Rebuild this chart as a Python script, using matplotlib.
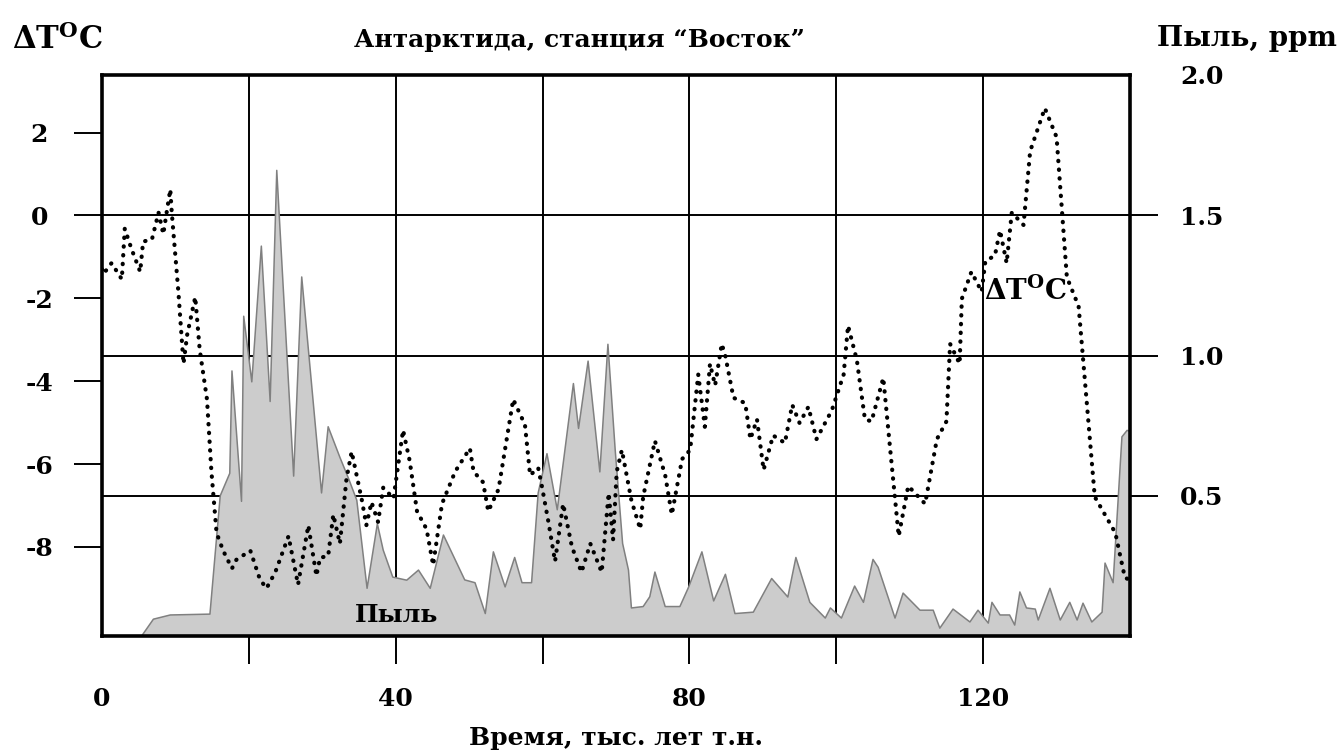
import numpy as np
import matplotlib.pyplot as plt

plt.rcParams['font.family'] = ['DejaVu Serif']
plt.rcParams['font.weight'] = 'bold'
plt.rcParams['mathtext.default'] = 'regular'

# Температура (отклонение, °C) по времени, тыс. лет
temp_time = [0.0, 0.2, 1.3, 2.7, 3.1, 4.0, 5.2, 5.6, 6.8, 7.7,
             8.35, 8.8, 9.3, 9.5, 10.4, 11.1, 11.6, 12.7, 13.3, 14.3,
             14.9, 15.6, 16.5, 17.7, 18.3, 20.2, 21.5, 22.4, 23.6, 25.4,
             26.7, 28.1, 29.2, 29.7, 30.8, 31.5, 32.4, 33.3, 34.0, 35.4,
             36.0, 36.7, 37.6, 38.3, 39.7, 41.0, 41.9, 42.9, 44.2, 45.1,
             46.3, 48.1, 50.1, 50.6, 51.9, 52.6, 54.0, 56.0, 57.6, 58.3,
             59.4, 59.9, 60.8, 61.7, 62.8, 64.0, 65.3, 66.5, 68.05, 69.0,
             69.6, 70.1, 70.8, 72.1, 73.3, 73.7, 75.3, 76.7, 77.6, 79.0,
             80.1, 81.2, 82.1, 82.8, 83.5, 84.4, 84.9, 86.0, 87.6, 88.3,
             89.2, 90.1, 91.4, 93.0, 94.0, 95.0, 96.2, 97.3, 99.4, 101.0,
             101.6, 102.8, 103.9, 104.8, 106.4, 107.3, 108.5, 109.8, 112.1, 113.7,
             115.0, 115.5, 116.8, 117.1, 118.4, 119.8, 120.3, 121.6, 122.3, 123.2,
             123.9, 125.5, 126.4, 128.4, 130.0, 131.4, 133.0, 135.2, 138.0, 139.3,
             140.0]
temp_delta = [-1.30, -1.41, -1.15, -1.54, -0.32, -0.80, -1.36, -0.63, -0.58, 0.07,
              -0.45, 0.07, 0.63, 0.07, -1.84, -3.58, -2.88, -1.97, -3.23, -4.44,
              -6.18, -7.66, -8.09, -8.52, -8.31, -8.09, -8.78, -9.00, -8.61, -7.74,
              -8.91, -7.48, -8.70, -8.26, -8.22, -7.22, -7.92, -6.35, -5.70, -6.88,
              -7.48, -6.92, -7.40, -6.57, -6.83, -5.18, -5.92, -7.14, -7.57, -8.44,
              -6.96, -6.18, -5.62, -6.18, -6.44, -7.14, -6.61, -4.44, -5.05, -6.27,
              -6.09, -6.53, -7.40, -8.35, -6.96, -8.00, -8.61, -7.92, -8.61, -6.70,
              -7.83, -6.18, -5.66, -6.88, -7.57, -6.79, -5.44, -6.27, -7.22, -5.88,
              -5.66, -3.84, -5.10, -3.58, -4.10, -3.10, -3.40, -4.40, -4.53, -5.40,
              -4.92, -6.14, -5.31, -5.49, -4.57, -5.01, -4.62, -5.40, -4.70, -3.84,
              -2.66, -3.49, -4.92, -4.97, -3.92, -5.57, -7.74, -6.53, -6.96, -5.40,
              -4.97, -3.10, -3.58, -2.01, -1.36, -1.84, -1.10, -0.97, -0.36, -1.15,
              0.07, -0.23, 1.55, 2.59, 1.89, -1.49, -2.19, -6.79, -7.66, -8.74,
              -8.80]

# Пыль, ppm
dust_time = [0.0, 5.4, 7.0, 9.3, 14.7, 16.1, 17.4, 17.7, 19.0, 19.3,
             20.4, 21.7, 22.9, 23.8, 26.1, 27.2, 29.9, 30.8, 32.4, 33.6,
             34.7, 36.1, 37.5, 38.3, 39.6, 41.5, 43.1, 44.7, 46.5, 49.4,
             50.8, 52.2, 53.3, 54.9, 56.2, 57.2, 58.5, 59.4, 60.6, 62.0,
             64.2, 64.9, 66.2, 67.8, 68.9, 69.9, 70.9, 71.7, 72.1, 73.7,
             74.6, 75.3, 76.7, 78.7, 79.9, 81.7, 83.3, 84.9, 86.2, 88.7,
             91.2, 93.4, 94.5, 96.4, 98.5, 99.2, 100.7, 102.5, 103.7, 105.0,
             105.7, 108.0, 109.1, 111.4, 113.2, 114.1, 115.9, 118.2, 119.3, 120.7,
             121.2, 122.3, 123.6, 124.3, 125.0, 125.9, 127.1, 127.5, 129.1, 130.5,
             131.8, 132.8, 133.6, 134.8, 136.2, 136.6, 137.7, 138.9, 139.6, 140.0]
dust_ppm = [0.0, 0.0, 0.06, 0.075, 0.078, 0.50, 0.58, 0.945, 0.48, 1.14,
            0.906, 1.39, 0.836, 1.66, 0.57, 1.28, 0.51, 0.746, 0.637, 0.56,
            0.484, 0.17, 0.40, 0.306, 0.21, 0.199, 0.235, 0.17, 0.36, 0.20,
            0.19, 0.08, 0.30, 0.175, 0.28, 0.19, 0.19, 0.51, 0.65, 0.45,
            0.90, 0.74, 0.98, 0.585, 1.04, 0.66, 0.33, 0.235, 0.10, 0.105,
            0.14, 0.228, 0.105, 0.105, 0.175, 0.30, 0.125, 0.22, 0.08, 0.085,
            0.205, 0.139, 0.28, 0.12, 0.064, 0.10, 0.064, 0.178, 0.12, 0.273,
            0.245, 0.064, 0.153, 0.092, 0.092, 0.028, 0.096, 0.05, 0.092, 0.046,
            0.12, 0.075, 0.075, 0.039, 0.157, 0.10, 0.096, 0.057, 0.17, 0.057,
            0.12, 0.057, 0.117, 0.05, 0.085, 0.26, 0.19, 0.71, 0.733, 0.73]

x_labeled = [0, 40, 80, 120]
x_minor = [20, 60, 100]
temp_ticks = [-8, -6, -4, -2, 0, 2]
dust_ticks = [0.5, 1.0, 1.5, 2.0]
dust_grid = [0.5, 1.0, 1.5]

fig = plt.figure(figsize=(13.44, 7.55), dpi=100)
rect = [102 / 1344, 1 - 636 / 755, 1028 / 1344, 561 / 755]

# задний слой: пыль, сетка, правая шкала
ax_d = fig.add_axes(rect)
ax_d.set_xlim(0, 140)
ax_d.set_ylim(0, 2.0)
for x in x_minor + x_labeled[1:]:
    ax_d.axvline(x, color='black', lw=1.4, zorder=1)
for y in dust_grid:
    ax_d.axhline(y, color='black', lw=1.4, zorder=1)
ax_d.fill_between(dust_time, dust_ppm, 0, facecolor='#cccccc', edgecolor='none', zorder=2)
ax_d.plot(dust_time, dust_ppm, color='#808080', lw=1.1, zorder=3)
ax_d.text(34.5, 0.075, 'Пыль', fontsize=18, ha='left', va='center', zorder=5)
ax_d.yaxis.tick_right()
ax_d.set_yticks(dust_ticks)
ax_d.set_yticklabels([f'{v:.1f}' for v in dust_ticks])
ax_d.tick_params(axis='y', direction='out', length=20, width=1.4, pad=16, labelsize=18)
ax_d.yaxis.get_major_ticks()[-1].tick2line.set_visible(False)
ax_d.tick_params(axis='x', bottom=False, labelbottom=False)
for sp in ax_d.spines.values():
    sp.set_visible(False)

# передний слой: температура, левая шкала, ось времени
ax_t = fig.add_axes(rect)
ax_t.patch.set_visible(False)
ax_t.set_xlim(0, 140)
ax_t.set_ylim(-10.15, 3.39)
ax_t.plot(temp_time, temp_delta, color='black', lw=3.0,
          linestyle=(0, (0.1, 2.0)), dash_capstyle='round', zorder=4)
ax_t.text(120.1, -1.83, r'ΔT$^{O}$C', fontsize=20, ha='left', va='center', zorder=5)
ax_t.set_yticks(temp_ticks)
ax_t.set_yticklabels([str(v) for v in temp_ticks])
ax_t.tick_params(axis='y', direction='out', length=20, width=1.4, pad=25, labelsize=18)
for lab in ax_t.get_yticklabels():
    lab.set_horizontalalignment('center')
ax_t.set_xticks(x_labeled)
ax_t.set_xticks(x_minor, minor=True)
ax_t.tick_params(axis='x', which='both', direction='out', length=20, width=1.4,
                 pad=17, labelsize=18)
ax_t.xaxis.get_major_ticks()[0].tick1line.set_visible(False)
for sp in ax_t.spines.values():
    sp.set_linewidth(2.6)

fig.text(579 / 1344, 1 - 40 / 755, 'Антарктида, станция “Восток”', fontsize=18,
         ha='center', va='center')
fig.text(12 / 1344, 1 - 40 / 755, r'ΔT$^{O}$C', fontsize=22, ha='left', va='center')
fig.text(1157 / 1344, 1 - 38 / 755, 'Пыль, ppm', fontsize=20, ha='left', va='center')
fig.text(616 / 1344, 1 - 738 / 755, 'Время, тыс. лет т.н.', fontsize=18,
         ha='center', va='center')

fig.savefig('out.png', dpi=100)
